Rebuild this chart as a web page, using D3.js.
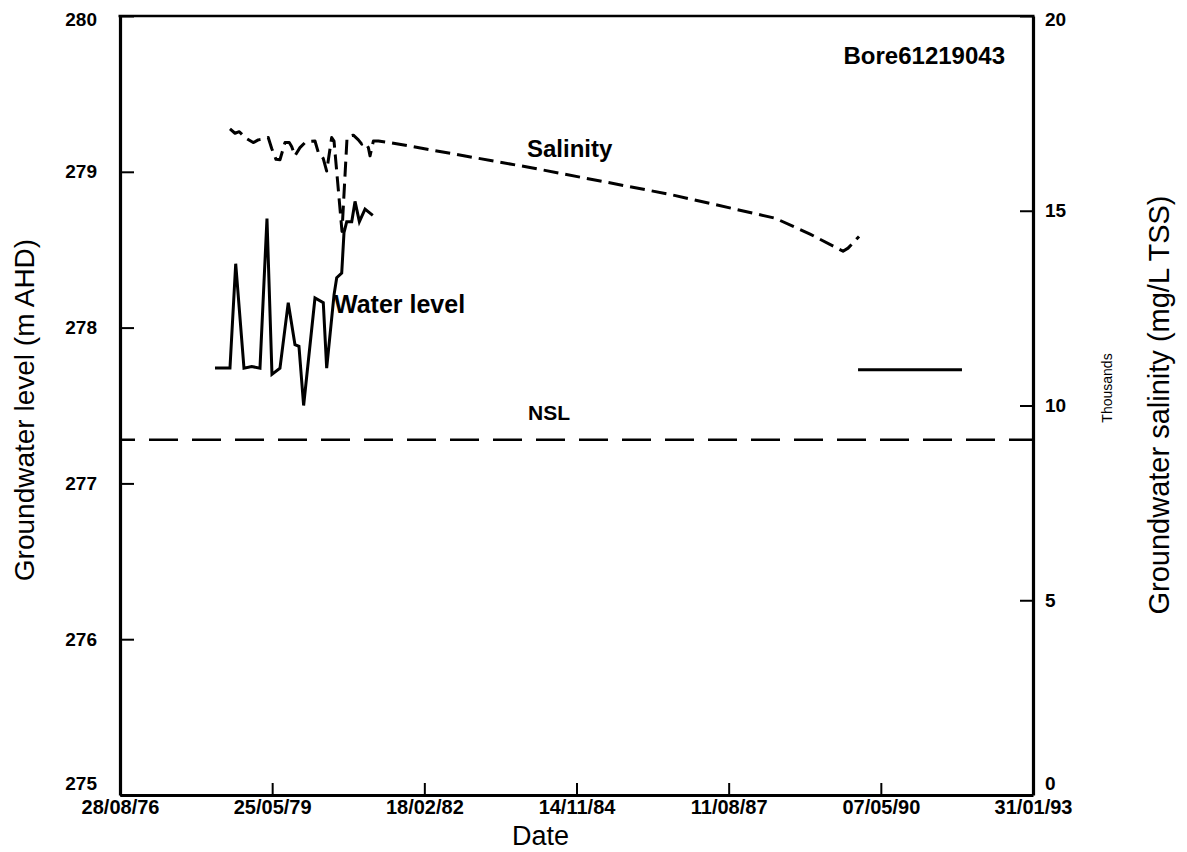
<!DOCTYPE html>
<html>
<head>
<meta charset="utf-8">
<script src="https://cdn.jsdelivr.net/npm/d3@7"></script>
<style>
  body { margin: 0; background: #fff; }
  svg { display: block; }
  text { font-family: "Liberation Sans", Arial, Helvetica, sans-serif; fill: #000; }
</style>
</head>
<body>
<svg id="chart" width="1187" height="852"></svg>
<script>
// ---------- data ----------
const xTickLabels = ["28/08/76", "25/05/79", "18/02/82", "14/11/84", "11/08/87", "07/05/90", "31/01/93"];
const leftTicks = [275, 276, 277, 278, 279, 280];
const rightTicks = [0, 5, 10, 15, 20];

// Water level (m AHD), dates as decimal years
const waterYears = [1978.365, 1978.635, 1978.738, 1978.887, 1979.026, 1979.175, 1979.301, 1979.391,
  1979.535, 1979.684, 1979.805, 1979.877, 1979.961, 1980.165, 1980.314, 1980.375, 1980.507, 1980.555,
  1980.645, 1980.686, 1980.735, 1980.825, 1980.884, 1980.962, 1981.064, 1981.203];
const waterLevels = [277.74, 277.74, 278.41, 277.74, 277.75, 277.74, 278.70, 277.70,
  277.74, 278.16, 277.89, 277.88, 277.50, 278.19, 278.16, 277.74, 278.21, 278.32,
  278.35, 278.61, 278.68, 278.68, 278.81, 278.68, 278.76, 278.72];
const waterYears2 = [1989.935, 1991.806];
const waterLevels2 = [277.73, 277.73];

// Salinity (thousand mg/L TSS), dates as decimal years
const salYears = [1978.635, 1978.725, 1978.803, 1978.905, 1979.054, 1979.144, 1979.234, 1979.324,
  1979.386, 1979.463, 1979.535, 1979.625, 1979.702, 1979.745, 1979.805, 1979.895, 1979.985, 1980.057,
  1980.165, 1980.224, 1980.314, 1980.375, 1980.465, 1980.507, 1980.650, 1980.740, 1980.794, 1980.854,
  1980.944, 1981.005, 1981.064, 1981.124, 1981.154, 1981.214, 1981.304, 1981.514, 1984.033, 1986.552,
  1988.441, 1989.071, 1989.665, 1989.755, 1989.953];
const salValues = [17.10, 16.99, 17.03, 16.88, 16.75, 16.82, 16.84, 16.88,
  16.60, 16.32, 16.31, 16.75, 16.75, 16.65, 16.41, 16.62, 16.75, 16.78,
  16.79, 16.50, 16.34, 16.02, 16.88, 16.79, 14.47, 16.86, 16.92, 16.94,
  16.82, 16.71, 16.75, 16.62, 16.41, 16.79, 16.79, 16.75, 16.11, 15.42,
  14.81, 14.40, 13.96, 14.04, 14.34];

const nslLevel = 277.28;

// ---------- helpers ----------
function yearToDate(v) {
  const y = Math.floor(v);
  const a = new Date(y, 0, 1), b = new Date(y + 1, 0, 1);
  return new Date(a.getTime() + (v - y) * (b - a));
}
const parse = d3.timeParse("%d/%m/%y");
const fmt = d3.timeFormat("%d/%m/%y");
const tickDates = xTickLabels.map(parse);

// ---------- layout ----------
const L = 120, R = 1033, T = 16, B = 795;
const svg = d3.select("#chart");

const x = d3.scaleTime().domain([tickDates[0], tickDates[tickDates.length - 1]]).range([L, R]);
const yL = d3.scaleLinear().domain([275, 280]).range([B, T]);
const yR = d3.scaleLinear().domain([0, 20]).range([B, T]);

// ---------- lines ----------
const water = waterYears.map((d, i) => ({ d: yearToDate(d), v: waterLevels[i] }));
const water2 = waterYears2.map((d, i) => ({ d: yearToDate(d), v: waterLevels2[i] }));
const sal = salYears.map((d, i) => ({ d: yearToDate(d), v: salValues[i] }));

const lineL = d3.line().x(p => x(p.d)).y(p => yL(p.v));
const lineR = d3.line().x(p => x(p.d)).y(p => yR(p.v));

// NSL
svg.append("line")
  .attr("x1", x(tickDates[0])).attr("x2", x(tickDates[tickDates.length - 1]))
  .attr("y1", yL(nslLevel)).attr("y2", yL(nslLevel))
  .attr("stroke", "#000").attr("stroke-width", 2.6)
  .attr("stroke-dasharray", "29,14").attr("stroke-dashoffset", 14);

svg.append("path").datum(sal).attr("d", lineR)
  .attr("fill", "none").attr("stroke", "#000").attr("stroke-width", 3)
  .attr("stroke-dasharray", "15,7").attr("stroke-linejoin", "round");

[water, water2].forEach(seg => {
  svg.append("path").datum(seg).attr("d", lineL)
    .attr("fill", "none").attr("stroke", "#000").attr("stroke-width", 3)
    .attr("stroke-linejoin", "miter");
});

// ---------- axes ----------
const tickFont = "bold 19px 'Liberation Sans', Arial, sans-serif";

const axL = svg.append("g").attr("transform", `translate(${L},0)`)
  .call(d3.axisLeft(yL).tickValues(leftTicks).tickFormat(d3.format("d"))
    .tickSizeInner(-14).tickSizeOuter(0).tickPadding(23));
const axR = svg.append("g").attr("transform", `translate(${R},0)`)
  .call(d3.axisRight(yR).tickValues(rightTicks).tickFormat(d3.format("d"))
    .tickSizeInner(-13).tickSizeOuter(0).tickPadding(12));
const axB = svg.append("g").attr("transform", `translate(0,${B})`)
  .call(d3.axisBottom(x).tickValues(tickDates).tickFormat(fmt)
    .tickSizeInner(-12).tickSizeOuter(0).tickPadding(5));

[axL, axR, axB].forEach(g => {
  g.select(".domain").attr("stroke", "#000").attr("stroke-width", 3.2);
  g.selectAll(".tick line").attr("stroke", "#000").attr("stroke-width", 2);
  g.selectAll(".tick text").style("font", tickFont).attr("fill", "#000");
});
axB.selectAll(".tick text").style("font-size", "20px");
// nudge the end labels of the vertical axes so they clear the date labels / frame top
axL.selectAll(".tick text").filter(d => d === 275).attr("dy", "-0.3em");
axR.selectAll(".tick text").filter(d => d === 0).attr("dy", "-0.3em");
axL.selectAll(".tick text").filter(d => d === 280).attr("dy", "0.5em");
axR.selectAll(".tick text").filter(d => d === 20).attr("dy", "0.5em");

// top border
svg.append("line").attr("x1", L - 1.5).attr("x2", R + 1.5).attr("y1", T).attr("y2", T)
  .attr("stroke", "#000").attr("stroke-width", 2.6);

// ---------- titles & annotations ----------
svg.append("text").attr("x", (L + R) / 2 - 36).attr("y", 845)
  .attr("text-anchor", "middle").style("font-size", "27px").text("Date");

svg.append("text").attr("transform", "translate(34,410) rotate(-90)")
  .attr("text-anchor", "middle").style("font-size", "28px").text("Groundwater level (m AHD)");

svg.append("text").attr("transform", "translate(1169,405) rotate(-90)")
  .attr("text-anchor", "middle").style("font-size", "29px").text("Groundwater salinity (mg/L TSS)");

svg.append("text").attr("transform", "translate(1112,388) rotate(-90)")
  .attr("text-anchor", "middle").style("font-size", "14px").text("Thousands");

const annFont = "bold 24px 'Liberation Sans', Arial, sans-serif";
svg.append("text").attr("x", 1005).attr("y", 64).attr("text-anchor", "end")
  .style("font", annFont).text("Bore61219043");
svg.append("text").attr("x", 527).attr("y", 157)
  .style("font", annFont).text("Salinity");
svg.append("text").attr("x", 334).attr("y", 313)
  .style("font", "bold 25px 'Liberation Sans', Arial, sans-serif").text("Water level");
svg.append("text").attr("x", 528).attr("y", 420)
  .style("font", "bold 21px 'Liberation Sans', Arial, sans-serif").text("NSL");
</script>
</body>
</html>
